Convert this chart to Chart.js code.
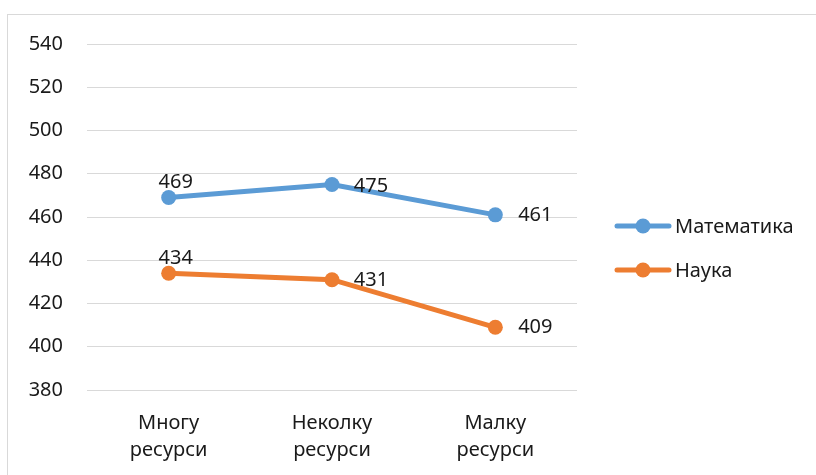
<!DOCTYPE html>
<html>
<head>
<meta charset="utf-8">
<script src="https://cdn.jsdelivr.net/npm/chart.js@4.4.0/dist/chart.umd.min.js"></script>
<style>
  html, body { margin: 0; padding: 0; background: #fff; overflow: hidden; }
  #wrap { position: relative; width: 816px; height: 475px; }
  #frame { position: absolute; left: 7px; top: 14px; width: 830px; height: 480px; border: 1px solid #d9d9d9; box-sizing: border-box; }
  #chart { position: absolute; left: 0; top: 0; }
</style>
</head>
<body>
<div id="wrap">
  <div id="frame"></div>
  <canvas id="chart" width="816" height="475"></canvas>
</div>
<script>
// categories and series
var categories = [['Многу', 'ресурси'], ['Неколку', 'ресурси'], ['Малку', 'ресурси']];
var mathScores = [469, 475, 461];
var scienceScores = [434, 431, 409];
var seriesNames = ['Математика', 'Наука'];

var FONT = '"Noto Sans", "Open Sans", sans-serif';
var TEXT = '#1a1a1a';

// value labels, offset per point (dx, dy from the marker centre)
var labelOffsets = [
    [[7, -15], [39, 2], [40, 0]],
    [[7, -15], [39, 1], [40, 0]]
];

var valueLabels = {
    id: 'valueLabels',
    afterDatasetsDraw: function(chart) {
        var ctx = chart.ctx;
        ctx.save();
        ctx.font = '20px ' + FONT;
        ctx.fillStyle = TEXT;
        ctx.textAlign = 'center';
        ctx.textBaseline = 'middle';
        chart.data.datasets.forEach(function(ds, i) {
            chart.getDatasetMeta(i).data.forEach(function(pt, j) {
                var off = labelOffsets[i][j];
                ctx.fillText(String(ds.data[j]), pt.x + off[0], pt.y + off[1]);
            });
        });
        ctx.restore();
    }
};

// legend on the right: short line with a dot, then the name
var sideLegend = {
    id: 'sideLegend',
    afterDraw: function(chart) {
        var ctx = chart.ctx;
        ctx.save();
        chart.data.datasets.forEach(function(ds, i) {
            var y = 226 + i * 44;
            ctx.strokeStyle = ds.borderColor;
            ctx.lineWidth = 5;
            ctx.lineCap = 'round';
            ctx.beginPath();
            ctx.moveTo(617, y);
            ctx.lineTo(669, y);
            ctx.stroke();
            ctx.fillStyle = ds.borderColor;
            ctx.beginPath();
            ctx.arc(643, y, 7.5, 0, Math.PI * 2);
            ctx.fill();
            ctx.fillStyle = TEXT;
            ctx.font = '20px ' + FONT;
            ctx.textAlign = 'left';
            ctx.textBaseline = 'middle';
            ctx.fillText(ds.label, 675, y + 1);
        });
        ctx.restore();
    }
};

var ctx = document.getElementById('chart').getContext('2d');
var myChart = new Chart(ctx, {
    type: 'line',
    data: {
        labels: categories,
        datasets: [
            {
                label: seriesNames[0],
                data: mathScores,
                borderColor: '#5b9bd5',
                backgroundColor: '#5b9bd5',
                borderWidth: 5,
                pointRadius: 7.5,
                pointBorderWidth: 0,
                fill: false
            },
            {
                label: seriesNames[1],
                data: scienceScores,
                borderColor: '#ed7d31',
                backgroundColor: '#ed7d31',
                borderWidth: 5,
                pointRadius: 7.5,
                pointBorderWidth: 0,
                fill: false
            }
        ]
    },
    options: {
        responsive: false,
        animation: false,
        layout: { padding: { left: 0, top: 44, right: 239, bottom: 0 } },
        plugins: {
            legend: { display: false },
            tooltip: { enabled: false }
        },
        scales: {
            x: {
                offset: true,
                grid: { display: false, drawTicks: false, offset: true },
                border: { display: false },
                ticks: { padding: 20, color: TEXT, font: { family: FONT, size: 20, lineHeight: 1.35 } },
                afterFit: function(scale) { scale.height = 85; }
            },
            y: {
                min: 380,
                max: 540,
                ticks: { stepSize: 20, padding: 24, color: TEXT, font: { family: FONT, size: 20 } },
                grid: { color: '#d9d9d9', lineWidth: 1, drawTicks: false },
                border: { display: false },
                afterFit: function(scale) { scale.width = 87; }
            }
        }
    },
    plugins: [valueLabels, sideLegend]
});
</script>
</body>
</html>
